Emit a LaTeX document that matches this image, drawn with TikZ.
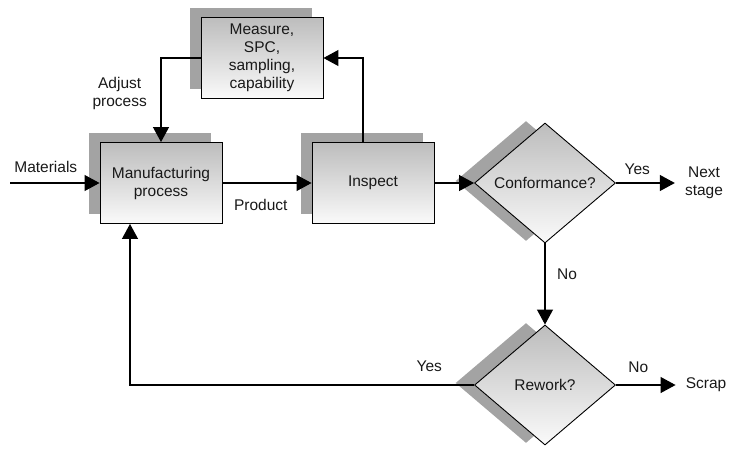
\documentclass[tikz,border=0pt]{standalone}
\usepackage{fontspec}
\setmainfont{Liberation Sans}
\usetikzlibrary{shapes.geometric,arrows.meta,shadows}

\tikzset{
    block/.style={draw, rectangle, line width=0.9pt, minimum width=122pt, minimum height=81pt,
        align=center, top color=black!26, bottom color=black!2,
        drop shadow={shadow xshift=-11pt, shadow yshift=10pt, fill=black!36, opacity=1}},
    decision/.style={draw, diamond, line width=0.9pt, minimum width=141pt, minimum height=120pt,
        inner sep=0pt, top color=black!26, bottom color=black!2,
        drop shadow={shadow xshift=-19pt, shadow yshift=2pt, fill=black!36, opacity=1}},
    flow/.style={-{Triangle[length=15pt,width=16pt]}, line width=1.1pt},
    outside/.style={inner sep=0pt, align=center}
}

\begin{document}
\begin{tikzpicture}[x=1pt, y=1pt, node font=\fontsize{15.5}{18}\selectfont, text=black!90]
        \useasboundingbox (0,0) rectangle (734,-448);

        % The process
        \node (mfg) [block] at (161,-183) {Manufacturing\\process};
        \node (insp) [block, right of=mfg, node distance=212pt] {Inspect};
        \node (meas) [block] at (262,-58) {Measure,\\SPC,\\sampling,\\capability};

        % The decisions
        \node (conf) [decision, right of=insp, node distance=172pt] {Conformance?};
        \node (rew) [decision, below of=conf, node distance=202pt] {Rework?};

        % Loose ends
        \coordinate (in) at (10,-183);
        \node (next) [outside, right of=conf, node distance=159pt] {Next\\stage};
        \node (scrap) [outside, right of=rew, node distance=161pt] {Scrap};

        \draw[flow] (in) -- node [pos=.4, above=4.5pt] {Materials} (mfg.west);
        \draw[flow] (mfg.east) -- node [pos=.43, below=10.5pt] {Product} (insp.west);
        \draw[flow] (insp.east) -- (conf.west);
        \draw[flow] ([xshift=-10pt]insp.north) |- (meas.east);
        \draw[flow] (meas.west) -| node [pos=.71, left=8.5pt, align=center] {Adjust\\process} (mfg.north);

        \draw[flow, shorten >=10pt] (conf.east) -- node [pos=.31, above=2.5pt] {Yes} (next.west);
        \draw[flow] (conf.south) -- node [pos=.38, right=6.5pt] {No} (rew.north);
        \draw[flow, shorten >=10pt] (rew.east) -- node [pos=.32, above=6.5pt] {No} (scrap.west);
        \draw[flow] (rew.west) -| node [pos=.065, above=7.5pt] {Yes} ([xshift=-31pt]mfg.south);
    \end{tikzpicture}
\end{document}
